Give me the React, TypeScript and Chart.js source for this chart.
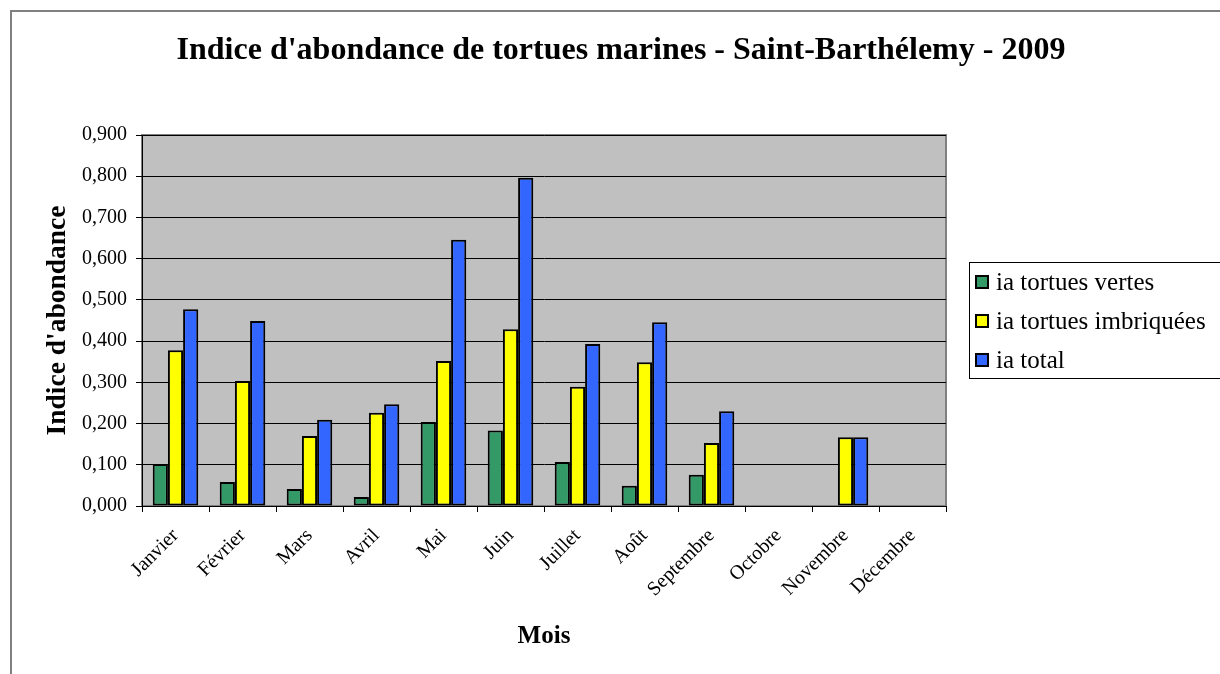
import React, { useEffect, useRef } from "react";
import { Chart, registerables } from "chart.js";

Chart.register(...registerables);

const months = ["Janvier", "Février", "Mars", "Avril", "Mai", "Juin", "Juillet", "Août", "Septembre", "Octobre", "Novembre", "Décembre"];
const vertes = [0.102, 0.058, 0.041, 0.022, 0.204, 0.183, 0.107, 0.049, 0.076, null, null, null];
const imbriquees = [0.378, 0.303, 0.170, 0.226, 0.352, 0.429, 0.289, 0.349, 0.153, null, 0.167, null];
const total = [0.477, 0.449, 0.209, 0.247, 0.646, 0.796, 0.393, 0.446, 0.230, null, 0.167, null];
const seriesNames = ["ia tortues vertes", "ia tortues imbriquées", "ia total"];
const titleText = "Indice d'abondance de tortues marines - Saint-Barthélemy - 2009";
const yTitle = "Indice d'abondance";
const xTitle = "Mois";

const SERIF = "'Liberation Serif', 'Times New Roman', serif";

const backgroundPlugin = {
  id: "plotBg",
  beforeDraw(chart: any) {
    const { ctx, chartArea } = chart;
    ctx.save();
    ctx.fillStyle = "#ffffff";
    ctx.fillRect(0, 0, chart.width, chart.height);
    ctx.strokeStyle = "#808080";
    ctx.lineWidth = 2;
    ctx.strokeRect(11, 11, chart.width + 10, chart.height + 10);
    ctx.fillStyle = "#c0c0c0";
    ctx.fillRect(chartArea.left, chartArea.top, chartArea.right - chartArea.left, chartArea.bottom - chartArea.top);
    ctx.strokeStyle = "#808080";
    ctx.lineWidth = 2;
    ctx.strokeRect(chartArea.left, chartArea.top, chartArea.right - chartArea.left, chartArea.bottom - chartArea.top);
    ctx.restore();
  },
};

const titlePlugin = {
  id: "centerTitle",
  afterDraw(chart: any) {
    const { ctx } = chart;
    ctx.save();
    ctx.font = `bold 32px ${SERIF}`;
    ctx.fillStyle = "#000";
    ctx.textAlign = "center";
    ctx.textBaseline = "middle";
    ctx.fillText(titleText, 621, 51);
    ctx.restore();
  },
};

const legendPlugin = {
  id: "boxLegend",
  afterDraw(chart: any) {
    const { ctx } = chart;
    const x = 969.5, y = 262.5, w = 260, h = 116;
    ctx.save();
    ctx.fillStyle = "#ffffff";
    ctx.fillRect(x, y, w, h);
    ctx.strokeStyle = "#000000";
    ctx.lineWidth = 1;
    ctx.strokeRect(x, y, w, h);
    ctx.font = `25px ${SERIF}`;
    ctx.textBaseline = "middle";
    ctx.textAlign = "left";
    chart.data.datasets.forEach((ds: any, i: number) => {
      const cy = 282 + i * 39;
      ctx.fillStyle = ds.backgroundColor;
      ctx.fillRect(976, cy - 6, 12, 12);
      ctx.strokeStyle = "#000";
      ctx.lineWidth = 2;
      ctx.strokeRect(976, cy - 6, 12, 12);
      ctx.fillStyle = "#000";
      ctx.fillText(ds.label, 996, cy + 1);
    });
    ctx.restore();
  },
};

export default function App() {
  const ref = useRef<HTMLCanvasElement | null>(null);
  useEffect(() => {
    if (!ref.current) return;
    const mk = (label: string, data: any[], color: string) => ({
      label,
      data,
      backgroundColor: color,
      borderColor: "#000000",
      borderWidth: 2,
      borderSkipped: false as any,
      categoryPercentage: 0.68,
      barPercentage: 1,
    });
    const chart = new Chart(ref.current, {
      type: "bar",
      data: {
        labels: months,
        datasets: [
          mk(seriesNames[0], vertes, "#339966"),
          mk(seriesNames[1], imbriquees, "#ffff00"),
          mk(seriesNames[2], total, "#3366ff"),
        ],
      },
      options: {
        animation: false,
        responsive: false,
        layout: { padding: { left: 0, right: 274, top: 135, bottom: 0 } },
        plugins: {
          legend: { display: false },
          tooltip: { enabled: false },
          title: { display: false },
        },
        scales: {
          x: {
            afterFit(scale: any) { scale.height = 168; },
            grid: { display: true, drawOnChartArea: false, drawTicks: true, tickLength: 6, color: "#000", offset: true },
            border: { display: true, color: "#000", width: 1 },
            ticks: {
              color: "#000",
              font: { family: SERIF, size: 20 },
              maxRotation: 45,
              minRotation: 45,
              padding: 12,
              autoSkip: false,
            },
            title: {
              display: true,
              text: xTitle,
              color: "#000",
              font: { family: SERIF, size: 25, weight: "bold", lineHeight: 1.2 },
              padding: { top: 0, bottom: 22 },
            },
          },
          y: {
            min: 0,
            max: 0.9,
            afterFit(scale: any) { scale.width = 142; },
            grid: { color: "#000", lineWidth: 1, drawTicks: true, tickLength: 6 },
            border: { display: true, color: "#000", width: 1 },
            ticks: {
              stepSize: 0.1,
              color: "#000",
              font: { family: SERIF, size: 20 },
              padding: 9,
              callback: (v: any) => Number(v).toFixed(3).replace(".", ","),
            },
            title: {
              display: true,
              text: yTitle,
              color: "#000",
              font: { family: SERIF, size: 27.5, weight: "bold", lineHeight: 1.2 },
              padding: { top: 41, bottom: 0 },
            },
          },
        },
      },
      plugins: [backgroundPlugin, titlePlugin, legendPlugin],
    });
    return () => chart.destroy();
  }, []);
  return (
    <div style={{ position: "absolute", left: 0, top: 0, width: 1220, height: 674, overflow: "hidden" }}>
      <canvas ref={ref} width={1220} height={674} style={{ width: 1220, height: 674, display: "block" }} />
    </div>
  );
}
